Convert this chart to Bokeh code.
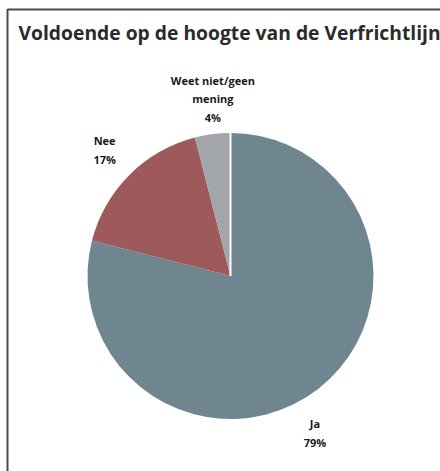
import math
from bokeh.plotting import figure
from bokeh.models import Range1d, ColumnDataSource, Label
from bokeh.core.properties import value
from bokeh.embed import file_html
from bokeh.resources import INLINE

# ---- data ----
title_text = "Voldoende op de hoogte van de Verfrichtlijn"
categories = ["Ja", "Nee", "Weet niet/geen\nmening"]
shares = [79, 17, 4]
colors = ["#6f8590", "#9e5a5a", "#a2a5a9"]
label_nudge_deg = [9.5, 0.0, 1.5]

# ---- layout (pixel-matched data space) ----
W, H = 440, 471
cx, cy, R = 230, 195.5, 143
r_label = 178

p = figure(width=W, height=H, output_backend="svg", toolbar_location=None,
           x_range=Range1d(0, W), y_range=Range1d(0, H), min_border=0,
           tools="")
p.axis.visible = False
p.grid.visible = False
p.outline_line_color = None
p.background_fill_color = "white"
p.border_fill_color = "white"

total = sum(shares)
starts, ends, lx, ly, labels = [], [], [], [], []
cum = 0.0
for cat, s, nud in zip(categories, shares, label_nudge_deg):
    a0 = math.pi / 2 - 2 * math.pi * cum / total
    cum += s
    a1 = math.pi / 2 - 2 * math.pi * cum / total
    starts.append(a0)
    ends.append(a1)
    mid = (a0 + a1) / 2 - math.radians(nud)
    lx.append(cx + r_label * math.cos(mid))
    ly.append(cy + r_label * math.sin(mid))
    labels.append(f"{cat}\n{s}%")

src = ColumnDataSource(dict(start=starts, end=ends, color=colors))
p.wedge(x=cx, y=cy, radius=R, start_angle="start", end_angle="end",
        direction="clock", fill_color="color", line_color=None, source=src)

# white separator at the start of the first slice
p.ray(x=[cx], y=[cy], length=R + 1, angle=[starts[0]], line_color="white", line_width=2)

p.text(x=lx, y=ly, text=labels, text_align="center", text_baseline="middle",
       text_font=value("Open Sans"), text_font_style="bold", text_font_size="11px",
       text_color="#1a1a1a", text_line_height=1.25)

p.add_layout(Label(x=18, y=439, text=title_text, text_font="Open Sans",
                   text_font_style="bold", text_font_size="19.3px", text_color="#2b2b2b",
                   text_baseline="middle", text_align="left"))

# frame border (only top and left edges fall inside the picture)
p.line(x=[7, 7, W + 20], y=[-20, H - 9, H - 9], line_color="#4a4a4a", line_width=2)

open("out.html", "w").write(file_html(p, INLINE))
